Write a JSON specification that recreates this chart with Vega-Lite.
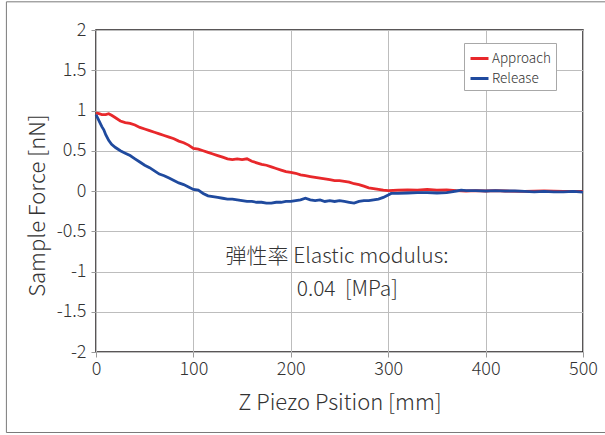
{
  "$schema": "https://vega.github.io/schema/vega-lite/v6.json",
  "width": 487,
  "height": 322,
  "autosize": {"type": "none"},
  "padding": {"left": 96, "top": 30, "right": 22, "bottom": 83},
  "background": "white",
  "config": {
    "font": "Noto Sans CJK JP",
    "view": {"stroke": "#231f20", "strokeWidth": 1.5},
    "axis": {
      "labelFont": "Noto Sans CJK JP",
      "titleFont": "Noto Sans CJK JP",
      "labelFontWeight": 300,
      "titleFontWeight": 300,
      "labelFontSize": 18,
      "titleFontSize": 22,
      "labelColor": "#333333",
      "titleColor": "#333333",
      "gridColor": "#bdbdbd",
      "gridWidth": 1,
      "tickColor": "#9a9a9a",
      "tickSize": 5,
      "domain": false,
      "labelFlush": false
    },
    "legend": {
      "labelFont": "Noto Sans CJK JP",
      "labelFontWeight": 300
    }
  },
  "data": {"values": [
    {"x": 0, "y": 0.97, "series": "Approach"},
    {"x": 3, "y": 0.96, "series": "Approach"},
    {"x": 6, "y": 0.95, "series": "Approach"},
    {"x": 10, "y": 0.95, "series": "Approach"},
    {"x": 13, "y": 0.96, "series": "Approach"},
    {"x": 16, "y": 0.94, "series": "Approach"},
    {"x": 20, "y": 0.91, "series": "Approach"},
    {"x": 25, "y": 0.87, "series": "Approach"},
    {"x": 30, "y": 0.85, "series": "Approach"},
    {"x": 35, "y": 0.84, "series": "Approach"},
    {"x": 40, "y": 0.82, "series": "Approach"},
    {"x": 45, "y": 0.79, "series": "Approach"},
    {"x": 50, "y": 0.77, "series": "Approach"},
    {"x": 55, "y": 0.75, "series": "Approach"},
    {"x": 60, "y": 0.73, "series": "Approach"},
    {"x": 65, "y": 0.71, "series": "Approach"},
    {"x": 70, "y": 0.69, "series": "Approach"},
    {"x": 75, "y": 0.67, "series": "Approach"},
    {"x": 80, "y": 0.65, "series": "Approach"},
    {"x": 85, "y": 0.62, "series": "Approach"},
    {"x": 90, "y": 0.6, "series": "Approach"},
    {"x": 95, "y": 0.57, "series": "Approach"},
    {"x": 100, "y": 0.53, "series": "Approach"},
    {"x": 105, "y": 0.52, "series": "Approach"},
    {"x": 110, "y": 0.5, "series": "Approach"},
    {"x": 115, "y": 0.48, "series": "Approach"},
    {"x": 120, "y": 0.46, "series": "Approach"},
    {"x": 125, "y": 0.44, "series": "Approach"},
    {"x": 130, "y": 0.42, "series": "Approach"},
    {"x": 135, "y": 0.4, "series": "Approach"},
    {"x": 140, "y": 0.39, "series": "Approach"},
    {"x": 145, "y": 0.4, "series": "Approach"},
    {"x": 150, "y": 0.39, "series": "Approach"},
    {"x": 155, "y": 0.4, "series": "Approach"},
    {"x": 160, "y": 0.37, "series": "Approach"},
    {"x": 165, "y": 0.35, "series": "Approach"},
    {"x": 170, "y": 0.33, "series": "Approach"},
    {"x": 175, "y": 0.32, "series": "Approach"},
    {"x": 180, "y": 0.3, "series": "Approach"},
    {"x": 185, "y": 0.28, "series": "Approach"},
    {"x": 190, "y": 0.26, "series": "Approach"},
    {"x": 195, "y": 0.24, "series": "Approach"},
    {"x": 200, "y": 0.23, "series": "Approach"},
    {"x": 205, "y": 0.22, "series": "Approach"},
    {"x": 210, "y": 0.2, "series": "Approach"},
    {"x": 215, "y": 0.19, "series": "Approach"},
    {"x": 220, "y": 0.18, "series": "Approach"},
    {"x": 225, "y": 0.17, "series": "Approach"},
    {"x": 230, "y": 0.16, "series": "Approach"},
    {"x": 235, "y": 0.15, "series": "Approach"},
    {"x": 240, "y": 0.14, "series": "Approach"},
    {"x": 245, "y": 0.13, "series": "Approach"},
    {"x": 250, "y": 0.13, "series": "Approach"},
    {"x": 255, "y": 0.12, "series": "Approach"},
    {"x": 260, "y": 0.11, "series": "Approach"},
    {"x": 265, "y": 0.09, "series": "Approach"},
    {"x": 270, "y": 0.08, "series": "Approach"},
    {"x": 275, "y": 0.06, "series": "Approach"},
    {"x": 280, "y": 0.04, "series": "Approach"},
    {"x": 285, "y": 0.03, "series": "Approach"},
    {"x": 290, "y": 0.02, "series": "Approach"},
    {"x": 295, "y": 0.01, "series": "Approach"},
    {"x": 300, "y": 0.005, "series": "Approach"},
    {"x": 310, "y": 0.01, "series": "Approach"},
    {"x": 320, "y": 0.015, "series": "Approach"},
    {"x": 330, "y": 0.01, "series": "Approach"},
    {"x": 340, "y": 0.02, "series": "Approach"},
    {"x": 350, "y": 0.01, "series": "Approach"},
    {"x": 360, "y": 0.015, "series": "Approach"},
    {"x": 370, "y": 0.005, "series": "Approach"},
    {"x": 380, "y": 0.0, "series": "Approach"},
    {"x": 390, "y": 0.005, "series": "Approach"},
    {"x": 400, "y": 0.0, "series": "Approach"},
    {"x": 410, "y": 0.005, "series": "Approach"},
    {"x": 420, "y": 0.0, "series": "Approach"},
    {"x": 440, "y": -0.005, "series": "Approach"},
    {"x": 460, "y": 0.0, "series": "Approach"},
    {"x": 480, "y": -0.005, "series": "Approach"},
    {"x": 500, "y": -0.005, "series": "Approach"},
    {"x": 0, "y": 0.95, "series": "Release"},
    {"x": 2, "y": 0.9, "series": "Release"},
    {"x": 4, "y": 0.85, "series": "Release"},
    {"x": 6, "y": 0.8, "series": "Release"},
    {"x": 8, "y": 0.76, "series": "Release"},
    {"x": 10, "y": 0.7, "series": "Release"},
    {"x": 13, "y": 0.63, "series": "Release"},
    {"x": 16, "y": 0.58, "series": "Release"},
    {"x": 20, "y": 0.54, "series": "Release"},
    {"x": 25, "y": 0.5, "series": "Release"},
    {"x": 30, "y": 0.47, "series": "Release"},
    {"x": 35, "y": 0.44, "series": "Release"},
    {"x": 40, "y": 0.4, "series": "Release"},
    {"x": 45, "y": 0.36, "series": "Release"},
    {"x": 50, "y": 0.32, "series": "Release"},
    {"x": 55, "y": 0.29, "series": "Release"},
    {"x": 60, "y": 0.25, "series": "Release"},
    {"x": 65, "y": 0.21, "series": "Release"},
    {"x": 70, "y": 0.19, "series": "Release"},
    {"x": 75, "y": 0.16, "series": "Release"},
    {"x": 80, "y": 0.13, "series": "Release"},
    {"x": 85, "y": 0.1, "series": "Release"},
    {"x": 90, "y": 0.08, "series": "Release"},
    {"x": 95, "y": 0.05, "series": "Release"},
    {"x": 100, "y": 0.02, "series": "Release"},
    {"x": 105, "y": 0.01, "series": "Release"},
    {"x": 110, "y": -0.03, "series": "Release"},
    {"x": 115, "y": -0.06, "series": "Release"},
    {"x": 120, "y": -0.07, "series": "Release"},
    {"x": 125, "y": -0.08, "series": "Release"},
    {"x": 130, "y": -0.09, "series": "Release"},
    {"x": 135, "y": -0.1, "series": "Release"},
    {"x": 140, "y": -0.1, "series": "Release"},
    {"x": 145, "y": -0.11, "series": "Release"},
    {"x": 150, "y": -0.12, "series": "Release"},
    {"x": 155, "y": -0.13, "series": "Release"},
    {"x": 160, "y": -0.13, "series": "Release"},
    {"x": 165, "y": -0.14, "series": "Release"},
    {"x": 170, "y": -0.14, "series": "Release"},
    {"x": 175, "y": -0.15, "series": "Release"},
    {"x": 180, "y": -0.15, "series": "Release"},
    {"x": 185, "y": -0.14, "series": "Release"},
    {"x": 190, "y": -0.14, "series": "Release"},
    {"x": 195, "y": -0.13, "series": "Release"},
    {"x": 200, "y": -0.13, "series": "Release"},
    {"x": 205, "y": -0.12, "series": "Release"},
    {"x": 210, "y": -0.11, "series": "Release"},
    {"x": 215, "y": -0.09, "series": "Release"},
    {"x": 220, "y": -0.11, "series": "Release"},
    {"x": 225, "y": -0.12, "series": "Release"},
    {"x": 230, "y": -0.11, "series": "Release"},
    {"x": 235, "y": -0.13, "series": "Release"},
    {"x": 240, "y": -0.12, "series": "Release"},
    {"x": 245, "y": -0.13, "series": "Release"},
    {"x": 250, "y": -0.12, "series": "Release"},
    {"x": 255, "y": -0.13, "series": "Release"},
    {"x": 260, "y": -0.14, "series": "Release"},
    {"x": 265, "y": -0.15, "series": "Release"},
    {"x": 270, "y": -0.13, "series": "Release"},
    {"x": 275, "y": -0.12, "series": "Release"},
    {"x": 280, "y": -0.12, "series": "Release"},
    {"x": 285, "y": -0.11, "series": "Release"},
    {"x": 290, "y": -0.1, "series": "Release"},
    {"x": 295, "y": -0.08, "series": "Release"},
    {"x": 300, "y": -0.05, "series": "Release"},
    {"x": 303, "y": -0.03, "series": "Release"},
    {"x": 310, "y": -0.03, "series": "Release"},
    {"x": 320, "y": -0.025, "series": "Release"},
    {"x": 330, "y": -0.02, "series": "Release"},
    {"x": 340, "y": -0.02, "series": "Release"},
    {"x": 350, "y": -0.025, "series": "Release"},
    {"x": 360, "y": -0.02, "series": "Release"},
    {"x": 365, "y": -0.01, "series": "Release"},
    {"x": 370, "y": 0.0, "series": "Release"},
    {"x": 375, "y": 0.01, "series": "Release"},
    {"x": 380, "y": 0.005, "series": "Release"},
    {"x": 390, "y": 0.005, "series": "Release"},
    {"x": 400, "y": 0.0, "series": "Release"},
    {"x": 410, "y": 0.005, "series": "Release"},
    {"x": 420, "y": 0.0, "series": "Release"},
    {"x": 430, "y": 0.0, "series": "Release"},
    {"x": 440, "y": -0.005, "series": "Release"},
    {"x": 450, "y": -0.01, "series": "Release"},
    {"x": 460, "y": -0.005, "series": "Release"},
    {"x": 470, "y": -0.01, "series": "Release"},
    {"x": 480, "y": -0.01, "series": "Release"},
    {"x": 490, "y": -0.005, "series": "Release"},
    {"x": 500, "y": -0.015, "series": "Release"}
  ]},
  "layer": [
    {
      "mark": {"type": "line", "strokeWidth": 2.8, "interpolate": "linear"},
      "encoding": {
        "x": {
          "field": "x", "type": "quantitative",
          "scale": {"domain": [0, 500], "nice": false, "zero": false},
          "axis": {"values": [0, 100, 200, 300, 400, 500], "title": "Z Piezo Psition [mm]", "labelPadding": 3, "titlePadding": 14}
        },
        "y": {
          "field": "y", "type": "quantitative",
          "scale": {"domain": [-2, 2], "nice": false},
          "axis": {
            "values": [-2, -1.5, -1, -0.5, 0, 0.5, 1, 1.5, 2],
            "title": "Sample Force [nN]",
            "labelPadding": 5,
            "titlePadding": 7,
            "titleY": 175,
            "labelExpr": "datum.value < 0 ? '-' + format(-datum.value, '~g') : format(datum.value, '~g')"
          }
        },
        "color": {
          "field": "series", "type": "nominal",
          "scale": {"domain": ["Approach", "Release"], "range": ["#e8282b", "#1f4a9e"]},
          "legend": {
            "title": null,
            "orient": "none",
            "legendX": 368,
            "legendY": 13,
            "symbolType": "stroke",
            "symbolStrokeWidth": 3,
            "symbolSize": 324,
            "labelFontSize": 13.5,
            "labelColor": "#333333",
            "labelOffset": 2,
            "rowPadding": 3,
            "padding": 5,
            "strokeColor": "#a8a8a8",
            "fillColor": "white"
          }
        },
        "order": {"field": "x", "type": "quantitative"}
      }
    },
    {
      "data": {"values": [{"note": "弾性率 Elastic modulus:"}]},
      "mark": {"type": "text", "align": "left", "baseline": "middle", "fontSize": 21, "fontWeight": 300, "color": "#333333"},
      "encoding": {
        "x": {"datum": 133},
        "y": {"datum": -0.82},
        "text": {"field": "note"}
      }
    },
    {
      "data": {"values": [{"note": "0.04\u00a0 [MPa]"}]},
      "mark": {"type": "text", "align": "left", "baseline": "middle", "fontSize": 21, "fontWeight": 300, "color": "#333333"},
      "encoding": {
        "x": {"datum": 206},
        "y": {"datum": -1.23},
        "text": {"field": "note"}
      }
    },
    {
      "data": {"values": [{}]},
      "mark": {"type": "rect", "fill": null, "stroke": "#7a7a7a", "strokeWidth": 1, "clip": false},
      "encoding": {
        "x": {"datum": -92},
        "x2": {"datum": 535},
        "y": {"datum": 2.35},
        "y2": {"datum": -3.0}
      }
    }
  ]
}
